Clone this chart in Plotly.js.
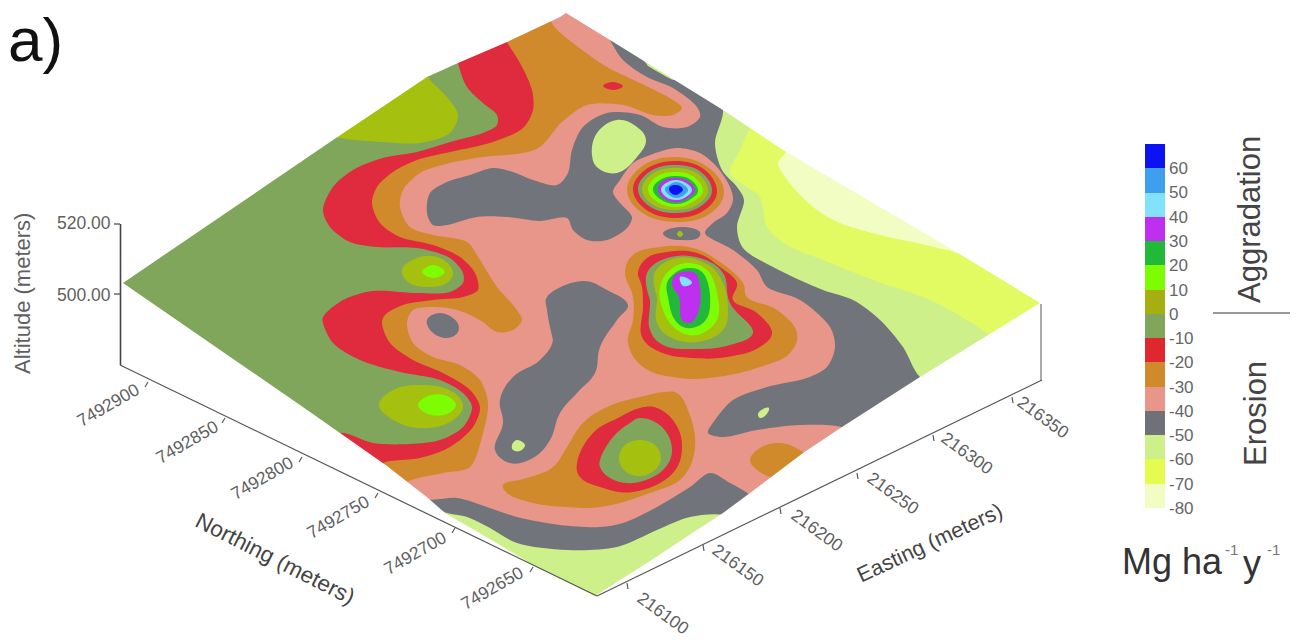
<!DOCTYPE html>
<html><head><meta charset="utf-8">
<script src="https://cdn.plot.ly/plotly-3.0.1.min.js"></script>
<style>html,body{margin:0;padding:0;background:#fff}</style></head>
<body><div id="chart" style="width:1296px;height:642px"></div>
<script>
// Class colours (Mg ha-1 y-1)
const C={p60:'#0c12f2',p50:'#3d9fee',p40:'#82e2fb',p30:'#bf2ff0',p20:'#22b83a',p10:'#7dfc04',p0:'#a6c010',
 m10:'#7fa65a',m20:'#e02a3d',m30:'#d18a2b',m40:'#e8958a',m50:'#72747b',m60:'#cdf08a',m70:'#e2fb62',m80:'#f1fdc2'};

// Colour key
const bandLows=[60,50,40,30,20,10,0,-10,-20,-30,-40,-50,-60,-70,-80];
const bandColors=[C.p60,C.p50,C.p40,C.p30,C.p20,C.p10,'#a5b010','#7fa65a','#e0262e',C.m30,C.m40,'#6f7078',C.m60,'#e6fb50',C.m80];
const keyTicks=[60,50,40,30,20,10,0,-10,-20,-30,-40,-50,-60,-70,-80];

// Axis ticks and labels
const northingLabels=['7492900','7492850','7492800','7492750','7492700','7492650'];
const northingTickX=[148,225,302,378,455,533];
const northingTickY=[382,418,457,493,528,567];
const northingLabelX=[108,187,262,338,415,492];
const northingLabelY=[405,442,478,517,553,588];
const eastingLabels=['216100','216150','216200','216250','216300','216350'];
const eastingTickX=[627,703,780,857,933,1012];
const eastingTickY=[583,545,508,473,435,397];
const eastingLabelX=[663,738,817,893,967,1043];
const eastingLabelY=[613,565,530,493,453,417];
const altitudeLabels=['520.00','500.00'];
const altitudeLabelY=[223,295];
const altitudeTickY=[224,294];

// Map outline
const outlineTop=[[123,283],[333,140],[427,77],[458,63],[507,42],[560,17],[566,13],[610,40],[723,110],[783,150],[953,250],[1040,303]];
const outlineBottom=[[920,377],[842,427],[803,453],[750,493],[723,513],[703,526],[650,561],[595,596],[533,565],[500,545],[445,513],[428,498],[387,466],[340,433],[300,405]];

// Contour regions that run off the map edge
const baseGreen=[[100,0],[1075,0],[1075,640],[100,640]];
const olivePatch=[[420,50],[428,77],[447,97],[458,115],[450,133],[420,143],[383,142],[340,138],[310,130],[350,90]];
const redRegion=[[450,10],[458,63],[467,87],[483,103],[497,115],[497,125],[483,133],[450,142],[417,152],[383,158],[353,170],[333,187],[323,210],[330,227],[350,242],[377,247],[417,248],[450,258],[463,273],[463,283],[450,292],[417,293],[373,291],[343,300],[323,317],[323,323],[333,343],[360,360],[400,372],[440,380],[463,393],[472,407],[463,427],[440,440],[410,444],[373,443],[340,433],[330,445],[470,560],[590,640],[1070,330],[1070,60],[600,-20]];
const orangeRegion=[[495,15],[507,42],[520,63],[532,90],[533,110],[523,128],[493,142],[450,152],[417,160],[393,172],[377,187],[372,203],[380,223],[400,237],[433,245],[460,257],[475,273],[478,290],[463,297],[433,300],[403,305],[385,315],[382,323],[390,343],[413,360],[443,373],[470,390],[480,407],[473,427],[450,447],[420,458],[383,463],[372,475],[480,570],[600,640],[1070,320],[1070,60],[600,-20]];
const salmonRegion=[[545,5],[553,25],[573,43],[607,67],[640,83],[673,100],[682,108],[673,115],[653,115],[623,105],[587,105],[562,122],[540,147],[523,153],[483,157],[450,163],[420,173],[403,190],[400,207],[410,227],[433,235],[467,242],[480,260],[497,287],[513,305],[522,320],[513,330],[497,332],[480,320],[457,310],[433,307],[413,310],[407,323],[413,343],[433,357],[460,365],[480,380],[488,403],[483,433],[470,467],[443,473],[407,482],[398,492],[500,590],[600,640],[1070,320],[1070,60],[620,-20]];
const orangePatch=[[750,460],[760,448],[780,443],[803,452],[815,465],[785,490],[770,477],[757,470]];
const grayRight=[[600,20],[610,40],[623,60],[647,77],[673,88],[697,107],[700,117],[687,127],[663,127],[640,115],[607,113],[583,127],[572,150],[568,173],[557,185],[533,180],[513,172],[493,168],[470,175],[447,182],[430,193],[427,213],[433,225],[447,225],[477,217],[507,217],[540,221],[567,218],[573,230],[587,240],[607,240],[627,228],[632,217],[620,203],[613,192],[620,180],[633,163],[650,155],[677,148],[700,153],[717,167],[730,187],[733,200],[727,213],[713,223],[705,233],[733,250],[757,270],[767,287],[800,300],[830,327],[835,347],[827,367],[807,378],[767,387],[733,400],[715,420],[708,433],[723,437],[757,430],[800,425],[842,427],[870,440],[1070,400],[1070,60],[700,10]];
const grayStrip=[[418,490],[428,499],[457,498],[487,507],[517,517],[560,525],[600,527],[623,523],[657,507],[690,487],[710,473],[730,483],[750,495],[775,520],[600,640],[420,530]];
const paleBottom=[[435,508],[447,513],[467,517],[490,528],[517,543],[567,550],[617,547],[657,530],[690,517],[723,515],[740,525],[600,640],[430,535]];
const paleRight=[[720,90],[723,113],[715,143],[722,170],[737,187],[744,200],[737,227],[743,248],[773,267],[823,290],[853,300],[880,320],[903,347],[920,377],[960,400],[1070,350],[1070,100],[800,50]];
const yellowRight=[[760,110],[750,128],[740,150],[730,173],[747,187],[760,197],[767,227],[787,245],[823,260],[873,280],[930,300],[987,333],[1010,352],[1070,340],[1070,150],[850,100]];
const paleRightTop=[[790,130],[785,153],[778,163],[793,187],[817,210],[840,223],[880,235],[917,243],[947,250],[975,255],[960,180],[880,130]];
const paleSliver=[[640,55],[680,75],[675,80],[660,73],[648,66]];

// Closed islands
const grayCentre=[[547,297],[583,281],[607,290],[628,305],[617,320],[600,347],[595,373],[577,393],[560,413],[550,440],[533,458],[510,463],[495,450],[503,423],[500,400],[513,377],[540,360],[553,340],[547,310]];
const grayOval=[[427,320],[440,313],[457,322],[458,332],[447,338],[432,332]];
const paleIsland=[[617,120],[637,127],[646,140],[637,157],[617,173],[598,168],[592,155],[597,133]];
const paleDotA=[[512,445],[517,440],[525,445],[520,451],[513,450]];
const paleDotB=[[758,414],[763,409],[769,408],[766,415],[760,418]];
const redSpot=[[603,86],[612,82],[623,86],[614,90]];

// South hill
const sOrange=[[677,393],[688,410],[695,447],[683,477],[650,493],[600,507],[567,507],[533,503],[507,493],[503,485],[527,478],[553,467],[567,447],[583,423],[607,407],[640,397],[665,392]];
const sRed=[[657,408],[675,423],[682,447],[673,473],[633,492],[600,487],[580,477],[577,463],[593,433],[620,417],[640,408]];
const sGreen=[[640,418],[662,427],[672,450],[663,470],[633,483],[610,478],[600,467],[600,460],[613,437],[630,423]];
const sOlive=[[640,440],[655,445],[661,458],[655,470],[640,476],[625,471],[619,458],[625,445]];

// Middle hill
const mOrange=[[660,247],[693,248],[717,260],[743,283],[747,297],[777,310],[797,333],[790,353],[760,367],[717,377],[680,378],[643,367],[628,343],[633,320],[633,297],[625,272],[633,255]];
const mRed=[[667,252],[697,253],[720,267],[737,283],[733,300],[757,313],[772,333],[760,347],[727,357],[693,358],[660,352],[642,337],[643,307],[642,287],[638,272],[647,258]];
const mGreen=[[667,258],[700,258],[723,273],[730,303],[753,333],[730,345],[697,349],[663,345],[650,330],[650,300],[647,273]];
const mOlive=[[677,258],[703,262],[720,277],[728,310],[723,330],[697,342],[670,337],[657,323],[657,297],[655,272]];
const mLime=[[670,270],[687,263],[707,270],[717,293],[717,320],[697,335],[677,330],[663,310],[660,287]];
const mGreen2=[[675,273],[688,268],[703,273],[710,307],[703,323],[687,328],[675,320],[668,297],[667,283]];
const mPurple=[[683,272],[695,273],[700,287],[698,313],[690,323],[682,320],[679,297],[672,285],[675,275]];
const mCyan=[[680,277],[687,278],[692,283],[683,286]];

// North bullseye
const nOrange=[[675,157],[709,168],[724,192],[711,213],[678,222],[641,212],[627,190],[641,167]];
const nRed=[[675,161],[705,170],[717,192],[706,209],[677,218],[645,209],[633,189],[645,170]];
const nGreen=[[675,165],[701,172],[712,191],[701,206],[677,213],[649,206],[638,189],[649,172]];
const nOlive=[[675,168],[698,174],[708,191],[698,204],[677,210],[652,204],[642,189],[652,174]];
const nLime=[[675,172],[694,177],[703,191],[694,201],[677,207],[656,201],[648,189],[656,177]];
const nGreen2=[[675,176],[691,180],[698,191],[691,199],[677,204],[660,199],[653,189],[660,180]];
const nPurple=[[675,178],[688,181],[695,190],[688,198],[677,202],[663,198],[658,189],[663,181]];
const nCyan=[[676,180],[686,183],[692,190],[686,197],[677,200],[666,197],[661,189],[666,183]];
const nSky=[[676,182],[684,185],[688,190],[684,195],[677,198],[669,195],[665,189],[669,185]];
const nBlue=[[675,185],[680,186],[683,190],[680,193],[676,195],[671,193],[669,189],[671,186]];
const grayTinyOval=[[663,233],[680,227],[700,232],[698,238],[680,240],[668,238]];
const oliveDot=[[680,231],[683,234],[680,237],[677,234]];

// Left islands
const upOlive=[[402,270],[417,258],[440,258],[453,272],[447,283],[427,287],[408,282]];
const upLime=[[422,272],[433,265],[445,272],[433,278]];
const lowOlive=[[379,405],[393,390],[423,385],[453,392],[463,407],[450,422],[423,428],[397,422]];
const lowLime=[[418,405],[428,396],[447,396],[456,405],[447,414],[428,414]];

// Paint order: [outline, colour, closed island?]
const layers=[
 [olivePatch,C.p0],[redRegion,C.m20],[orangeRegion,C.m30],[salmonRegion,C.m40],[orangePatch,C.m30,1],
 [grayRight,C.m50],[grayCentre,C.m50,1],[grayOval,C.m50,1],[grayStrip,C.m50],[paleBottom,C.m60],
 [paleRight,C.m60],[yellowRight,C.m70],[paleRightTop,C.m80],[paleSliver,C.m60],[paleIsland,C.m60,1],[paleDotA,C.m60,1],[paleDotB,C.m60,1],[redSpot,C.m20,1],
 [sOrange,C.m30,1],[sRed,C.m20,1],[sGreen,C.m10,1],[sOlive,C.p0,1],
 [mOrange,C.m30,1],[mRed,C.m20,1],[mGreen,C.m10,1],[mOlive,C.p0,1],[mLime,C.p10,1],[mGreen2,C.p20,1],[mPurple,C.p30,1],[mCyan,C.p40,1],
 [nOrange,C.m30,1],[nRed,C.m20,1],[nGreen,C.m10,1],[nOlive,C.p0,1],[nLime,C.p10,1],[nGreen2,C.p20,1],[nPurple,C.p30,1],[nCyan,C.p40,1],[nSky,C.p50,1],[nBlue,C.p60,1],
 [grayTinyOval,C.m50,1],[oliveDot,C.p0,1],
 [upOlive,C.p0,1],[upLime,C.p10,1],[lowOlive,C.p0,1],[lowLime,C.p10,1]
];

function poly(pts,color,shape,smooth){
 return {type:'scatter',mode:'lines',x:pts.map(p=>p[0]),y:pts.map(p=>p[1]),fill:'toself',fillcolor:color,
  line:{width:0,shape:shape||'spline',smoothing:smooth||0.9,color:color},hoverinfo:'skip',showlegend:false};
}
function line(xs,ys,color,w){
 return {type:'scatter',mode:'lines',x:xs,y:ys,line:{color:color,width:w},hoverinfo:'skip',showlegend:false};
}
// Overlap the ends of a closed outline so that the spline has no corner where it starts
function wrap(p){const n=p.length;return [p[n-2],p[n-1]].concat(p,[p[0],p[1]]);}

const traces=[poly(baseGreen,C.m10,'linear')];
layers.forEach(l=>traces.push(l[2]?poly(wrap(l[0]),l[1],'spline',1.15):poly(l[0],l[1])));

// White surround that trims the regions to the map outline
const surround=[[0,283],[123,283]].concat(outlineTop.slice(1),outlineBottom,[[123,283],[0,283],[0,642],[1140,642],[1140,0],[0,0]]);
traces.push(poly(surround,'#ffffff','linear'));

// Frame lines
traces.push(line([120.5,120.5],[224,365],'#444',1.6));
traces.push(line([1041,1041],[304,380],'#aaa',2));
traces.push(line([120,597],[365,596],'#555',1.2));
traces.push(line([597,1042],[596,380],'#555',1.2));
altitudeTickY.forEach(y=>traces.push(line([114,120],[y,y],'#444',1.2)));
northingTickX.forEach((x,i)=>traces.push(line([x,x-3],[northingTickY[i],northingTickY[i]+5],'#555',1.2)));
eastingTickX.forEach((x,i)=>traces.push(line([x,x+1],[eastingTickY[i],eastingTickY[i]+6],'#555',1.2)));

// Colour key
traces.push({type:'bar',xaxis:'x2',yaxis:'y2',x:bandLows.map(()=>0),y:bandLows.map(()=>10),base:bandLows,width:1,
 marker:{color:bandColors,line:{width:0}},hoverinfo:'skip',showlegend:false});

const gray='#5f5f5f',font='Liberation Sans, Arial, sans-serif';
const ann=[];
function txt(t,x,y,size,angle,color){
 ann.push({text:t,x:x,y:y,xref:'x',yref:'y',showarrow:false,textangle:angle||0,xanchor:'center',yanchor:'middle',
  font:{family:font,size:size,color:color||gray}});
}
txt('a)',35,39,62,0,'#111');
altitudeLabels.forEach((t,i)=>txt(t,84,altitudeLabelY[i],17.5));
txt('Altitude (meters)',22,294,22,-90);
northingLabels.forEach((t,i)=>txt(t,northingLabelX[i],northingLabelY[i],17.5,-30));
eastingLabels.forEach((t,i)=>txt(t,eastingLabelX[i],eastingLabelY[i],17.5,36));
txt('Northing (meters)',275,558,22.5,27,'#444');
txt('Easting (meters)',930,543,21.5,-25,'#444');
txt('Aggradation',1249,220,31,-90,'#444');
txt('Erosion',1255,414,31,-90,'#444');
txt('Mg ha',1172,561,36,0,'#333');
txt('-1',1231,549,15,0,'#777');
txt('y',1252,563,36,0,'#333');
txt('-1',1273,549,15,0,'#777');

const layout={width:1296,height:642,margin:{l:0,r:0,t:0,b:0},paper_bgcolor:'#fff',plot_bgcolor:'rgba(0,0,0,0)',showlegend:false,bargap:0,
 xaxis:{domain:[0,1],range:[0,1296],visible:false,fixedrange:true},
 yaxis:{domain:[0,1],range:[642,0],visible:false,fixedrange:true},
 xaxis2:{domain:[1145/1296,1165/1296],range:[-0.5,0.5],visible:false,anchor:'y2',fixedrange:true},
 yaxis2:{domain:[1-508/642,1-144/642],range:[-80,70],anchor:'x2',side:'right',tickvals:keyTicks,ticktext:keyTicks.map(String),
  ticks:'',ticklabelstandoff:3,showgrid:false,zeroline:false,showline:false,fixedrange:true,
  tickfont:{family:font,size:17,color:'#666'}},
 annotations:ann,
 shapes:[{type:'line',xref:'x',yref:'y',x0:1213,x1:1290,y0:313,y1:313,line:{color:'#777',width:1.5}}]
};
Plotly.newPlot('chart',traces,layout,{displayModeBar:false,staticPlot:true});
</script></body></html>
